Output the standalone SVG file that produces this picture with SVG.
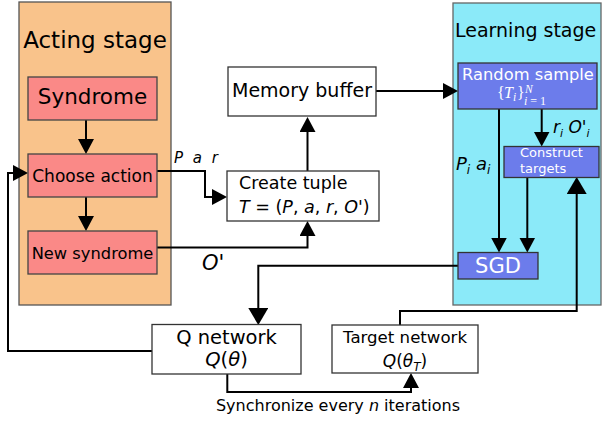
<svg xmlns="http://www.w3.org/2000/svg" width="602" height="422" viewBox="0 0 602 422">
  <style>
    text { font-family: "DejaVu Sans", Verdana, sans-serif; fill: #000; }
    .stage-act { fill: #f9c38b; stroke: #555; stroke-width: 1.3; }
    .stage-learn { fill: #8beaf9; stroke: #666; stroke-width: 1.3; }
    .pink { fill: #fa8987; stroke: #444; stroke-width: 1.3; }
    .blue { fill: #6c7ceb; stroke: #333; stroke-width: 1.3; }
    .plain { fill: #fff; stroke: #333; stroke-width: 1.3; }
    .w { fill: #fff; }
    .it { font-style: italic; }
    .math { font-family: "Liberation Serif", "DejaVu Serif", serif; }
    .conn path { fill: none; stroke: #000; stroke-width: 2; }
    .mid { text-anchor: middle; }
  </style>
  <defs>
    <marker id="arrow" markerUnits="userSpaceOnUse" markerWidth="16" markerHeight="16" viewBox="0 0 16 16" refX="5" refY="8" orient="auto">
      <path d="M0,0 L15,8 L0,16 z" fill="#000"/>
    </marker>
    <marker id="arrowBig" markerUnits="userSpaceOnUse" markerWidth="18" markerHeight="20" viewBox="0 0 18 20" refX="6" refY="10" orient="auto">
      <path d="M0,0 L17,10 L0,20 z" fill="#000"/>
    </marker>
  </defs>

  <!-- stage panels -->
  <g id="acting-stage">
    <rect class="stage-act" x="19" y="2" width="152" height="303"/>
    <text class="mid" x="95" y="48" font-size="23">Acting stage</text>
  </g>
  <g id="learning-stage">
    <rect class="stage-learn" x="453" y="3" width="148" height="302"/>
    <text x="455" y="37" font-size="19">Learning stage</text>
  </g>

  <!-- connectors -->
  <g id="connectors" class="conn">
    <path d="M86,120 V144" marker-end="url(#arrow)"/>
    <path d="M86,197 V221" marker-end="url(#arrow)"/>
    <path d="M157,171 H205 V197 H217" marker-end="url(#arrow)"/>
    <path d="M157,247.5 H307.5 V231" marker-end="url(#arrow)"/>
    <path d="M307.5,171 V127" marker-end="url(#arrow)"/>
    <path d="M376,91 H448" marker-end="url(#arrow)"/>
    <path d="M499,109 V242.5" marker-end="url(#arrow)"/>
    <path d="M541.7,109 V136.5" marker-end="url(#arrow)"/>
    <path d="M527.3,177.5 V242.5" marker-end="url(#arrow)"/>
    <path d="M458,265.7 H258.3 V314" marker-end="url(#arrowBig)"/>
    <path d="M152,351 H8 V173 H18" marker-end="url(#arrow)"/>
    <path d="M227.3,374 V392 H411 V383" marker-end="url(#arrow)"/>
    <path d="M400,325 V311 H576.7 V188" marker-end="url(#arrowBig)"/>
  </g>

  <!-- connector labels -->
  <g id="labels">
    <text class="it" x="174" y="162.7" font-size="15" letter-spacing="2.5">P a r</text>
    <text class="it" x="202" y="270" font-size="21">O'</text>
    <text class="it" x="456" y="170" font-size="18">P<tspan font-size="12" dy="4">i</tspan><tspan dy="-4"> a</tspan><tspan font-size="12" dy="4">i</tspan></text>
    <text class="it" x="553" y="133" font-size="17">r<tspan font-size="11" dy="4">i</tspan><tspan dy="-4"> O'</tspan><tspan font-size="11" dy="4">i</tspan></text>
    <text class="mid" x="338" y="410.5" font-size="16">Synchronize every <tspan class="it">n</tspan> iterations</text>
  </g>

  <!-- acting stage nodes -->
  <g id="syndrome">
    <rect class="pink" x="28" y="77" width="129" height="43"/>
    <text class="mid" x="92.5" y="104" font-size="21.5">Syndrome</text>
  </g>
  <g id="choose-action">
    <rect class="pink" x="28" y="154" width="129" height="43"/>
    <text class="mid" x="92.5" y="181.7" font-size="17">Choose action</text>
  </g>
  <g id="new-syndrome">
    <rect class="pink" x="28" y="231" width="129" height="43"/>
    <text class="mid" x="92.5" y="258.7" font-size="16.3">New syndrome</text>
  </g>

  <!-- memory nodes -->
  <g id="memory-buffer">
    <rect class="plain" x="228" y="67" width="148" height="49"/>
    <text class="mid" x="302" y="97" font-size="19">Memory buffer</text>
  </g>
  <g id="create-tuple">
    <rect class="plain" x="227" y="171" width="152" height="50"/>
    <text x="239" y="189" font-size="17.5">Create tuple</text>
    <text x="239" y="213" font-size="17.5"><tspan class="it">T</tspan> = (<tspan class="it">P</tspan>, <tspan class="it">a</tspan>, <tspan class="it">r</tspan>, <tspan class="it">O'</tspan>)</text>
  </g>

  <!-- networks -->
  <g id="q-network">
    <rect class="plain" x="152" y="324.5" width="149" height="49.5"/>
    <text class="mid" x="226.5" y="344" font-size="19.5">Q network</text>
    <text class="mid" x="226.5" y="366" font-size="19.5"><tspan class="it">Q</tspan>(<tspan class="it">θ</tspan>)</text>
  </g>
  <g id="target-network">
    <rect class="plain" x="332" y="325" width="146" height="48"/>
    <text class="mid" x="405" y="343" font-size="16.6">Target network</text>
    <text class="mid" x="405" y="367" font-size="17"><tspan class="it">Q</tspan>(<tspan class="it">θ</tspan><tspan class="it" font-size="12" dy="4">T</tspan><tspan dy="-4">)</tspan></text>
  </g>

  <!-- learning stage nodes -->
  <g id="random-sample">
    <rect class="blue" x="458" y="63" width="139" height="46"/>
    <text class="mid w" x="528" y="79.5" font-size="16.3">Random sample</text>
    <text class="math w" font-size="16"><tspan x="497" y="97.5">{</tspan><tspan x="504" y="97.5" font-style="italic">T</tspan><tspan x="513" y="100.5" font-size="11.5" font-style="italic">i</tspan><tspan x="517" y="97.5">}</tspan><tspan x="525" y="92.5" font-size="11.5" font-style="italic">N</tspan><tspan x="524" y="105" font-size="12"><tspan font-style="italic">i</tspan> = 1</tspan></text>
  </g>
  <g id="construct-targets">
    <rect class="blue" x="504" y="146.5" width="95" height="31"/>
    <text class="w" x="520" y="157" font-size="13">Construct</text>
    <text class="w" x="520" y="173" font-size="13">targets</text>
  </g>
  <g id="sgd">
    <rect class="blue" x="458" y="252.5" width="80" height="26.5"/>
    <text class="mid w" x="498" y="272.7" font-size="21">SGD</text>
  </g>
</svg>
